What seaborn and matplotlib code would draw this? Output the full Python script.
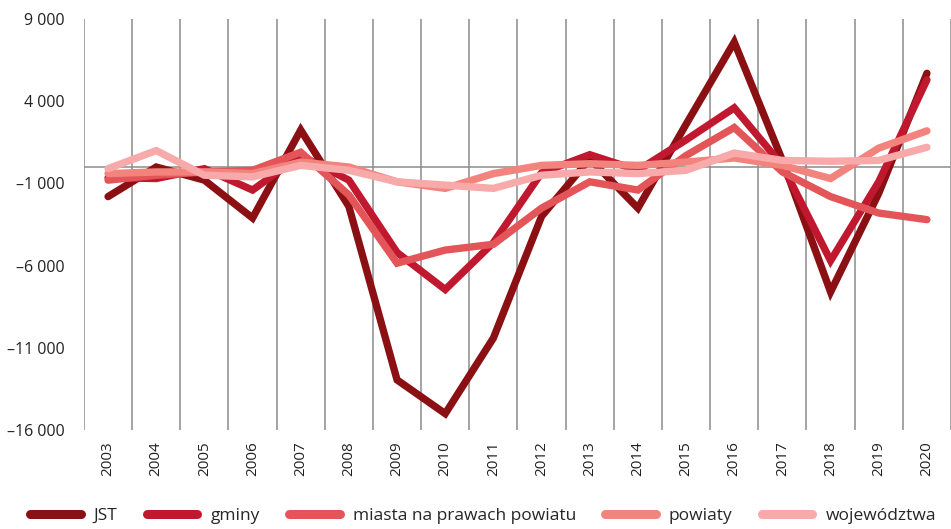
import pandas as pd
import seaborn as sns
import matplotlib.pyplot as plt
from matplotlib.lines import Line2D
from matplotlib.ticker import FuncFormatter

# Values
years = [str(y) for y in range(2003, 2021)]
jst = [-1800, 0, -800, -3100, 2250, -2400, -12950, -15000, -10400, -3000, 500,
       -2500, 2600, 7600, 400, -7600, -1600, 5700]
gminy = [-650, -700, -100, -1400, 700, -800, -5200, -7450, -4600, -350, 750,
         -200, 1650, 3600, 100, -5700, -900, 5300]
miasta = [-800, -500, -300, -200, 900, -1700, -5850, -5050, -4700, -2500, -900,
          -1400, 700, 2400, -300, -1800, -2800, -3200]
powiaty = [-400, -300, -300, -400, 300, 0, -900, -1300, -400, 100, 200,
           100, 300, 550, 100, -700, 1150, 2200]
wojewodztwa = [-100, 1000, -500, -600, 100, -200, -900, -1100, -1300, -500, -300,
               -400, -200, 850, 400, 350, 400, 1200]

series = ["JST", "gminy", "miasta na prawach powiatu", "powiaty", "województwa"]
colors = ["#8a1014", "#c0182f", "#e35558", "#f2837d", "#f8a9aa"]

df = pd.DataFrame({"rok": years, "JST": jst, "gminy": gminy,
                   "miasta na prawach powiatu": miasta, "powiaty": powiaty,
                   "województwa": wojewodztwa})
long = df.melt(id_vars="rok", var_name="grupa", value_name="wartosc")

sns.set_style("white")
plt.rcParams["font.family"] = ["Open Sans", "DejaVu Sans"]

fig = plt.figure(figsize=(9.51, 5.29), dpi=100)
ax = fig.add_axes([0.0883, 0.187, 0.9117, 0.777])

# category boundaries and zero line
for i in range(len(years) + 1):
    ax.axvline(i - 0.5, color="#8c8c8c", lw=1.1, zorder=0)
ax.axhline(0, color="#8c8c8c", lw=1.1, zorder=0)

sns.lineplot(data=long, x="rok", y="wartosc", hue="grupa", hue_order=series,
             palette=colors, linewidth=5.3, sort=False, legend=False, ax=ax)
for line in ax.lines:
    line.set_solid_capstyle("round")
    line.set_solid_joinstyle("miter")

ax.set_xlim(-0.5, len(years) - 0.5)
ax.set_ylim(-16000, 9000)
ax.set_yticks(range(-16000, 9001, 5000))
ax.yaxis.set_major_formatter(FuncFormatter(
    lambda v, p: f"{int(v):,}".replace(",", " ").replace("-", "–")))
ax.set_xlabel("")
ax.set_ylabel("")
ax.tick_params(axis="y", length=0, labelsize=11.5, pad=14, colors="#222222")
ax.tick_params(axis="x", length=0, labelsize=11, pad=8, colors="#222222",
               labelrotation=90)
for s in ax.spines.values():
    s.set_visible(False)

handles = [Line2D([0], [0], color=c, lw=6.5, solid_capstyle="round") for c in colors]
fig.legend(handles, series, loc="center", ncol=5, frameon=False,
           bbox_to_anchor=(0.508, 0.025), fontsize=12.5, handlelength=2.9,
           columnspacing=1.7, handletextpad=0.75)

fig.savefig("out.png", dpi=100)
